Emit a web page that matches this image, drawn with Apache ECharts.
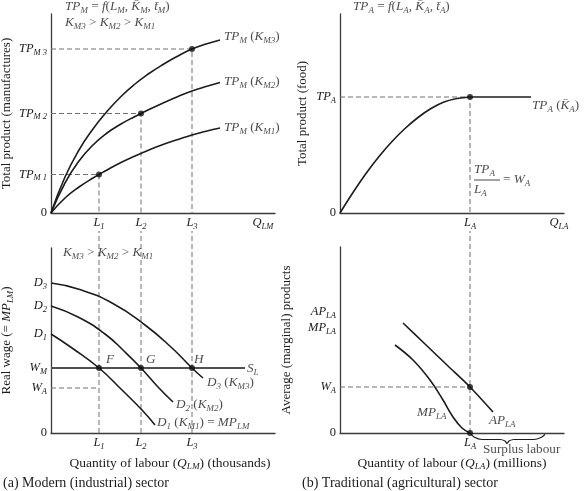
<!DOCTYPE html>
<html><head><meta charset="utf-8">
<script src="https://cdn.jsdelivr.net/npm/echarts@6/dist/echarts.min.js"></script>
<style>html,body{margin:0;padding:0;background:#fff}#c{width:587px;height:491px}</style>
</head><body><div id="c"></div>
<script>
// ---------- data (arbitrary units) ----------
// (a) top: total product curves of the modern sector
const tpX   = [0, 14, 28, 42, 56, 70, 84, 98, 112, 127, 141, 155, 169];
const tpK3Y = [0, 36, 63, 84, 101.5, 116.5, 129, 139.5, 148.5, 157, 164, 169, 173];
const tpK2Y = [0, 30, 52, 68, 80, 89, 96.5, 103.5, 110, 116.5, 122, 126.5, 130.5];
const tpK1Y = [0, 15, 26, 35, 43, 50.5, 57, 63, 68.5, 73.5, 78, 81.8, 85];
const labourL = [48, 90, 141];          // L1, L2, L3
const tpLevels = [38.5, 99.5, 164];     // TP_M1, TP_M2, TP_M3
// (a) bottom: labour demand curves
const d3X = [0, 27, 61, 94, 121, 141, 152];
const d3Y = [150, 144, 130, 108, 85, 65, 55];
const d2X = [0, 27, 54, 74, 90, 107, 122];
const d2Y = [127, 116, 99, 81, 65, 46, 31];
const d1X = [0, 21, 48, 71, 91, 104];
const d1Y = [99, 85, 65, 43, 23, 8];
const wageM = 65, wageA = 45, supplyEnd = 194;
// (b) top: total product of agriculture
const taX = [0, 13, 26, 39, 52, 65, 78, 91, 104, 117, 130];
const taY = [0, 20.5, 39.5, 56.5, 71.5, 84.5, 95.5, 104.5, 111, 114.5, 116];
const labourA = 130, tpA = 116, tpFlatEnd = 191;
// (b) bottom: average and marginal product
const apX = [63, 85, 108, 130, 153];
const apY = [110, 89, 67, 46, 21];
const mpX = [55, 73, 90, 103, 113, 122, 130];
const mpY = [88, 73, 53, 33, 16, 5, 0];
const wageA2 = 46;
const braceX = [130, 134, 142, 160, 165, 167, 169, 174, 194, 201, 205];
const braceY = [0, -4, -6.5, -6.5, -8, -10.5, -8, -6.5, -6.5, -4.5, -1.5];

// ---------- text helpers ----------
const M = (b, s) => `{i|${b}}{s|${s}}`;
const N = t => `{n|${t}}`;
const ink = '#1c1c1c', dashC = '#707070', axisC = '#3a3a3a';
const SERIF = 'Liberation Serif';
const mkRich = (fs) => ({
  i: {fontFamily: SERIF, fontStyle: 'italic', fontSize: fs, lineHeight: 16, color: ink},
  s: {fontFamily: SERIF, fontStyle: 'italic', fontSize: fs * 0.68, lineHeight: 10, verticalAlign: 'bottom', color: ink},
  n: {fontFamily: SERIF, fontSize: fs, lineHeight: 16, color: ink},
  bar: {width: 26, height: 1, lineHeight: 4, backgroundColor: ink}
});
const rich = mkRich(12.5);
const richNote = mkRich(13.2);
const richName = mkRich(13.5);

// axis label arrays
const tlYVals = [0, ...tpLevels];
const tlYLabs = [N('0'), M('TP', 'M 1'), M('TP', 'M 2'), M('TP', 'M 3')];
const tlXVals = [...labourL, 212];
const tlXLabs = [M('L', '1'), M('L', '2'), M('L', '3'), M('Q', 'LM')];
const blYVals = [0, wageA, wageM, 99, 127, 150];
const blYLabs = [N('0'), M('W', 'A'), M('W', 'M'), M('D', '1'), M('D', '2'), M('D', '3')];
const blXVals = labourL;
const blXLabs = [M('L', '1'), M('L', '2'), M('L', '3')];
const trYVals = [0, tpA];
const trYLabs = [N('0'), M('TP', 'A')];
const trXVals = [labourA, 219];
const trXLabs = [M('L', 'A'), M('Q', 'LA')];
const brYVals = [0, wageA2, 105, 121];
const brYLabs = [N('0'), M('W', 'A'), M('MP', 'LA'), M('AP', 'LA')];
const brXVals = [labourA];
const brXLabs = [M('L', 'A')];

const zip = (xs, ys) => xs.map((x, k) => [x, ys[k]]);

function xAx(gi, vals, labs, name, gap, pad) {
  return {
    gridIndex: gi, type: 'value', min: 0, max: 224,
    axisLine: {show: true, onZero: false, lineStyle: {color: axisC, width: 1.3}},
    axisTick: {show: false}, splitLine: {show: false},
    axisLabel: {customValues: vals, formatter: v => labs[vals.indexOf(v)] || '', margin: 2, rich, color: ink},
    name: name || '', nameLocation: 'middle', nameGap: gap || 20, nameMoveOverlap: false,
    nameTextStyle: {fontFamily: SERIF, fontSize: 13.5, color: ink, rich: richName, padding: pad || 0}
  };
}
function yAx(gi, max, vals, labs, name, gap) {
  return {
    gridIndex: gi, type: 'value', min: 0, max: max,
    axisLine: {show: true, onZero: false, lineStyle: {color: axisC, width: 1.3}},
    axisTick: {show: false}, splitLine: {show: false},
    axisLabel: {customValues: vals, formatter: v => labs[vals.indexOf(v)] || '', margin: 4, rich, color: ink},
    name: name, nameLocation: 'middle', nameGap: gap, nameMoveOverlap: false,
    nameTextStyle: {fontFamily: SERIF, fontSize: 13, color: ink, rich: mkRich(13)}
  };
}
function curve(gi, data, opt) {
  return Object.assign({type: 'line', xAxisIndex: gi, yAxisIndex: gi, data, smooth: 0.5, symbol: 'none',
    clip: false, silent: true, lineStyle: {color: ink, width: 1.6}}, opt || {});
}
function dashed(gi, data) {
  return {type: 'line', xAxisIndex: gi, yAxisIndex: gi, data, symbol: 'none', clip: false, silent: true,
    lineStyle: {color: dashC, width: 1, type: [5, 3]}, z: 1};
}
function dots(gi, data) {
  return {type: 'scatter', xAxisIndex: gi, yAxisIndex: gi, data, symbolSize: 6, clip: false, silent: true,
    itemStyle: {color: '#111'}, z: 5};
}
function notes(gi, items) {
  return {type: 'scatter', xAxisIndex: gi, yAxisIndex: gi, symbolSize: 0, clip: false, silent: true,
    data: items.map(it => ({value: [it[0], it[1]], label: {show: true, position: it[3] || 'right', distance: 0,
      formatter: it[2], rich: richNote, color: ink, align: it[4] || undefined}}))};
}

const series = [];
// ---- (a) top
labourL.forEach((l, k) => series.push(dashed(0, [[0, tpLevels[k]], [l, tpLevels[k]], [l, 0]])));
series.push(curve(0, zip(tpX, tpK3Y)));
series.push(curve(0, zip(tpX, tpK2Y)));
series.push(curve(0, zip(tpX, tpK1Y)));
series.push(dots(0, zip(labourL, tpLevels)));
series.push(notes(0, [
  [173, 176, M('TP', 'M') + N(' (') + M('K', 'M3') + N(')')],
  [173, 131, M('TP', 'M') + N(' (') + M('K', 'M2') + N(')')],
  [173, 85, M('TP', 'M') + N(' (') + M('K', 'M1') + N(')')],
  [14, 206, M('TP', 'M') + N(' = ') + '{i|f}' + N('(') + M('L', 'M') + N(', ') + M('K\u0304', 'M') + N(', ') + M('t\u0304', 'M') + N(')')],
  [14, 190, M('K', 'M3') + N(' > ') + M('K', 'M2') + N(' > ') + M('K', 'M1')]
]));
// ---- (a) bottom
labourL.forEach(l => series.push(dashed(1, [[l, 0], [l, 202]])));
series.push(dashed(1, [[0, wageA], [labourL[0], wageA]]));
series.push({type: 'line', xAxisIndex: 1, yAxisIndex: 1, data: [[0, wageM], [supplyEnd, wageM]], symbol: 'none',
  clip: false, silent: true, lineStyle: {color: '#505050', width: 2}});
series.push(curve(1, zip(d3X, d3Y)));
series.push(curve(1, zip(d2X, d2Y)));
series.push(curve(1, zip(d1X, d1Y)));
series.push(dots(1, labourL.map(l => [l, wageM])));
series.push(notes(1, [
  [12, 180, M('K', 'M3') + N(' > ') + M('K', 'M2') + N(' > ') + M('K', 'M1')],
  [55, 73, '{i|F}'], [95, 73, '{i|G}'], [143, 73, '{i|H}'],
  [196, 64, M('S', 'L')],
  [156, 50, M('D', '3') + N(' (') + M('K', 'M3') + N(')')],
  [125, 28, M('D', '2') + N(' (') + M('K', 'M2') + N(')')],
  [106, 10, M('D', '1') + N(' (') + M('K', 'M1') + N(') = ') + M('MP', 'LM')]
]));
// ---- (b) top
series.push(dashed(2, [[0, tpA], [labourA, tpA], [labourA, 0]]));
series.push(curve(2, zip(taX, taY), {smooth: 0.4}));
series.push(curve(2, [[labourA, tpA], [tpFlatEnd, tpA]], {smooth: false}));
series.push(dots(2, [[labourA, tpA]]));
series.push(notes(2, [
  [192, 107, M('TP', 'A') + N(' (') + M('K\u0304', 'A') + N(')')],
  [13, 206, M('TP', 'A') + N(' = ') + '{i|f}' + N('(') + M('L', 'A') + N(', ') + M('K\u0304', 'A') + N(', ') + M('t\u0304', 'A') + N(')')],
  [134, 33, M('TP', 'A') + '\n{bar| }\n' + M('L', 'A'), 'right', 'left'],
  [163, 33, N('= ') + M('W', 'A')]
]));
// ---- (b) bottom
series.push(dashed(3, [[labourA, 0], [labourA, 202]]));
series.push(dashed(3, [[0, wageA2], [labourA, wageA2]]));
series.push(curve(3, zip(apX, apY), {smooth: 0.3}));
series.push(curve(3, zip(mpX, mpY), {smooth: 0.4}));
series.push(curve(3, zip(braceX, braceY), {smooth: 0.3, lineStyle: {color: ink, width: 1.2}}));
series.push(dots(3, [[labourA, wageA2], [labourA, 0]]));
series.push(notes(3, [
  [77, 20, M('MP', 'LA')],
  [149, 12, M('AP', 'LA')],
  [143, -17, N('Surplus labour')]
]));

const chart = echarts.init(document.getElementById('c'), null, {renderer: 'canvas'});
const capStyle = {fontFamily: SERIF, fontSize: 14, fontWeight: 'normal', color: ink};
chart.setOption({
  animation: false,
  backgroundColor: '#fff',
  title: [
    {text: '(a) Modern (industrial) sector', left: 3, top: 476, padding: 0, textStyle: capStyle},
    {text: '(b) Traditional (agricultural) sector', left: 302, top: 476, padding: 0, textStyle: capStyle}
  ],
  grid: [
    {left: 51, top: 14, width: 224, height: 199, outerBoundsMode: 'none'},
    {left: 51, top: 248, width: 224, height: 185, outerBoundsMode: 'none'},
    {left: 340, top: 14, width: 224, height: 199, outerBoundsMode: 'none'},
    {left: 340, top: 247, width: 224, height: 186, outerBoundsMode: 'none'}
  ],
  xAxis: [
    xAx(0, tlXVals, tlXLabs),
    xAx(1, blXVals, blXLabs, N('Quantity of labour (') + M('Q', 'LM') + N(') (thousands)'), 22, [0, 0, 0, 14]),
    xAx(2, trXVals, trXLabs),
    xAx(3, brXVals, brXLabs, N('Quantity of labour (') + M('Q', 'LA') + N(') (millions)'), 22)
  ],
  yAxis: [
    yAx(0, 199, tlYVals, tlYLabs, N('Total product (manufactures)'), 36),
    yAx(1, 185, blYVals, blYLabs, N('Real wage (= ') + M('MP', 'LM') + N(')'), 36),
    yAx(2, 199, trYVals, trYLabs, N('Total product (food)'), 29),
    yAx(3, 186, brYVals, brYLabs, N('Average (marginal) products'), 45)
  ],
  series
});
</script></body></html>
